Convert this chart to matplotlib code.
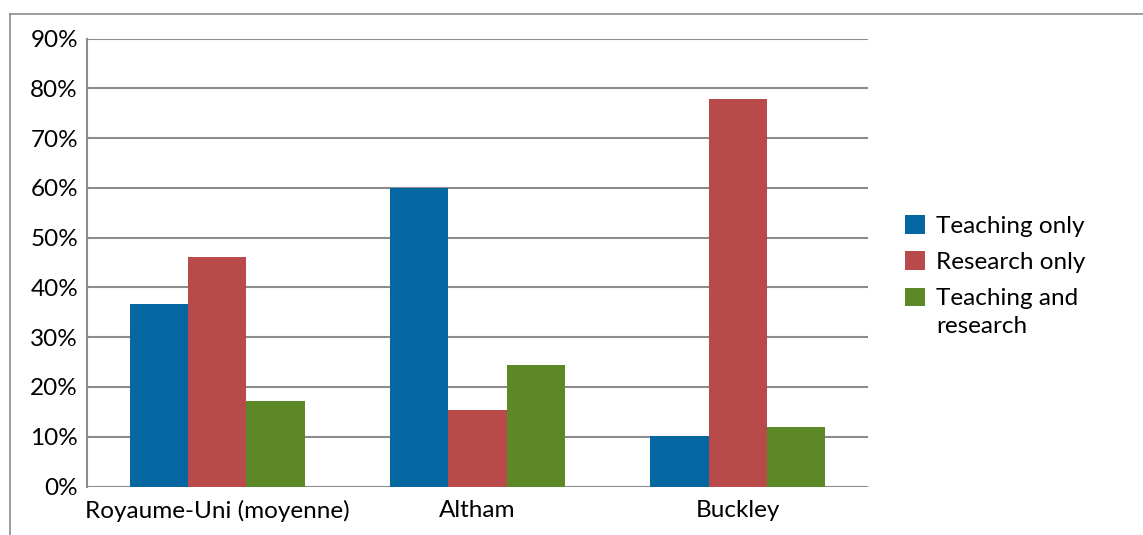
import matplotlib
matplotlib.use("Agg")
import matplotlib.pyplot as plt
from matplotlib.lines import Line2D
import numpy as np

# données
categories = ["Royaume-Uni (moyenne)", "Altham", "Buckley"]
teaching_only = [36.6, 60.0, 10.2]
research_only = [46.1, 15.4, 77.8]
teaching_and_research = [17.2, 24.4, 11.9]
series_labels = ["Teaching only", "Research only", "Teaching and\nresearch"]
colors = ["#0467a2", "#b84a4a", "#5c8828"]

plt.rcParams['font.family'] = ['Lato', 'DejaVu Sans']

fig = plt.figure(figsize=(11.43, 5.35), dpi=100)
ax = fig.add_axes([87 / 1143, 48.5 / 535, 781 / 1143, 448 / 535])

x = np.arange(len(categories))
w = 0.224
for i, (vals, lab, col) in enumerate(zip([teaching_only, research_only, teaching_and_research],
                                         series_labels, colors)):
    ax.bar(x + (i - 1) * w, vals, width=w, color=col, label=lab, zorder=3)

ax.set_xlim(-0.5, 2.5)
ax.set_ylim(0, 90)
ax.set_yticks(range(0, 91, 10))
ax.set_yticklabels([f"{v}%" for v in range(0, 91, 10)])
ax.set_xticks(x)
ax.set_xticklabels(categories)
ax.yaxis.grid(True, color="#8c8c8c", linewidth=1.5, zorder=0)
ax.set_axisbelow(True)
for s in ["top", "right", "bottom"]:
    ax.spines[s].set_visible(False)
ax.spines["left"].set_color("#8c8c8c")
ax.spines["left"].set_linewidth(1.5)
ax.tick_params(axis="both", length=0, labelsize=17.5, colors="black")
ax.tick_params(axis="y", pad=6.5)
ax.tick_params(axis="x", pad=10)

leg = ax.legend(loc="center left", bbox_to_anchor=(1.02, 0.47), frameon=False,
                fontsize=17.5, handlelength=0.8, handleheight=0.8,
                handletextpad=0.45, labelspacing=0.6)
leg.get_texts()[2].set_linespacing(1.43)
# carré vert aligné sur la première ligne du libellé
h = leg.legend_handles[2]
h.set_y(h.get_y() + 11)

# cadre autour du graphique (haut et gauche seulement visibles)
fig.add_artist(Line2D([10 / 1143, 1.0], [1 - 13.5 / 535, 1 - 13.5 / 535],
                      color="#8c8c8c", linewidth=1.2, transform=fig.transFigure))
fig.add_artist(Line2D([10 / 1143, 10 / 1143], [0.0, 1 - 13.5 / 535],
                      color="#8c8c8c", linewidth=1.2, transform=fig.transFigure))

fig.savefig("out.png", dpi=100, facecolor="white")
